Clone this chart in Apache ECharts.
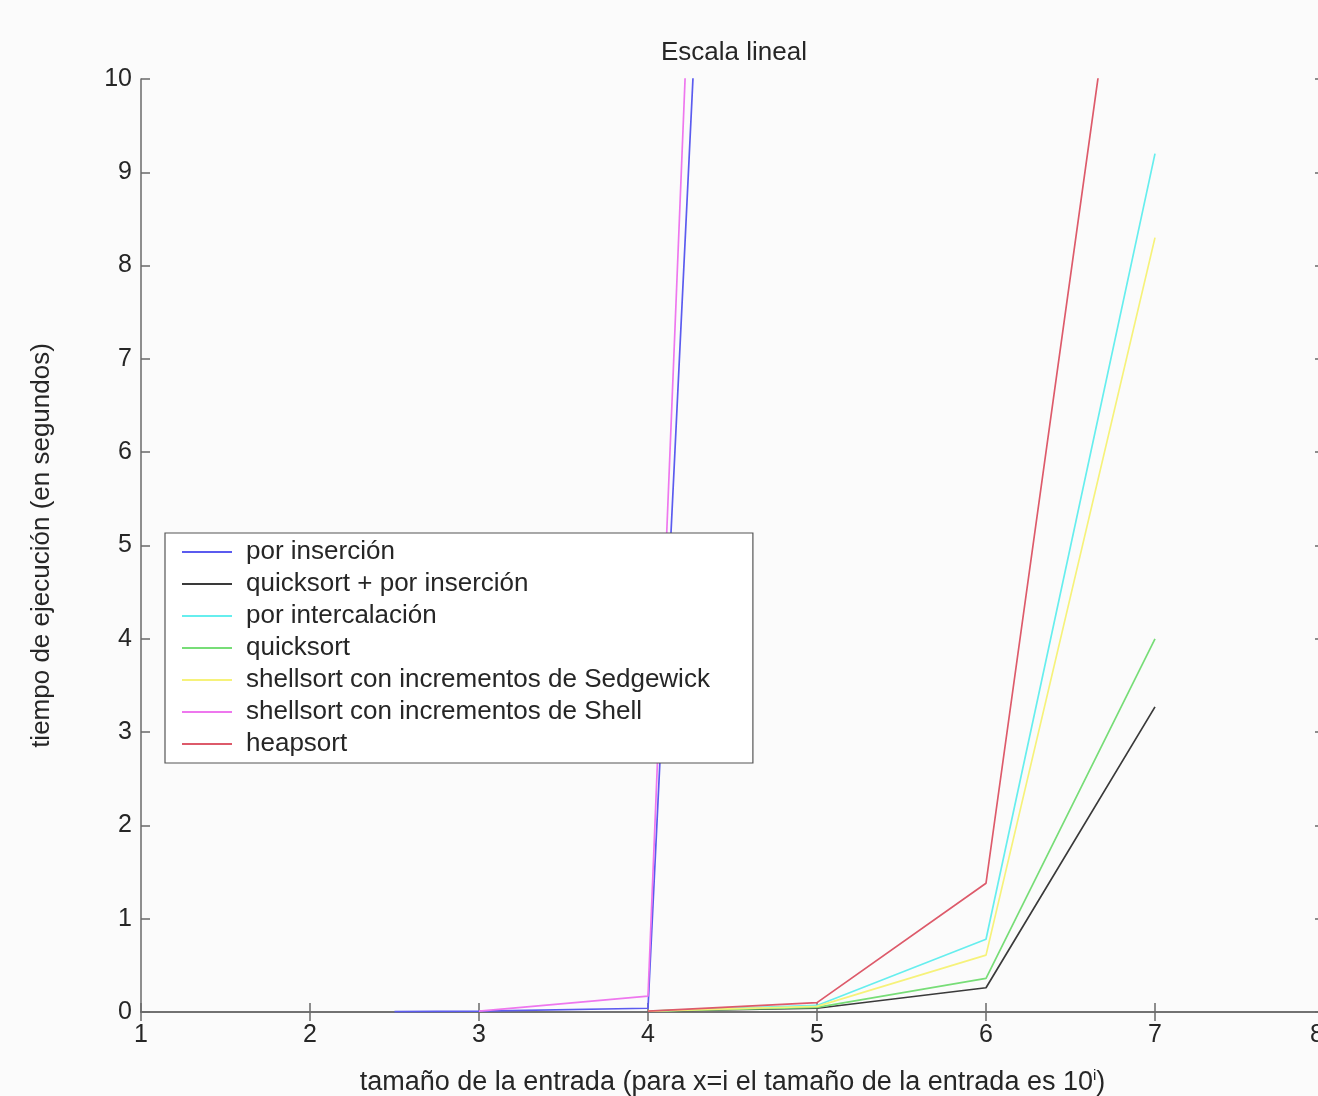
<!DOCTYPE html>
<html>
<head>
<meta charset="utf-8">
<script src="https://cdn.jsdelivr.net/npm/echarts@6/dist/echarts.min.js"></script>
<style>
html,body{margin:0;padding:0;background:#fbfbfb;overflow:hidden;width:1318px;height:1096px;}
#chart{width:1334px;height:1096px;}
</style>
</head>
<body>
<div id="chart"></div>
<script>
// ---- data (x = log10 of input size, y = seconds) ----
const seriesNames = [
  'por inserción',
  'quicksort + por inserción',
  'por intercalación',
  'quicksort',
  'shellsort con incrementos de Sedgewick',
  'shellsort con incrementos de Shell',
  'heapsort'
];
const seriesColors = ['#5b5bef', '#3a3a3a', '#66eeee', '#77dd77', '#f6f27a', '#ee77ee', '#dd5a6a'];

const xInsercion = [2.5, 3, 4, 5];
const yInsercion = [0.005, 0.01, 0.04, 37.5];

const xQuickIns = [4, 5, 6, 7];
const yQuickIns = [0.01, 0.04, 0.26, 3.27];

const xIntercal = [4, 5, 6, 7];
const yIntercal = [0.01, 0.07, 0.78, 9.2];

const xQuick = [4, 5, 6, 7];
const yQuick = [0.01, 0.05, 0.36, 4.0];

const xSedgewick = [4, 5, 6, 7];
const ySedgewick = [0.01, 0.06, 0.61, 8.3];

const xShell = [3, 4, 5];
const yShell = [0.01, 0.17, 45];

const xHeap = [4, 5, 6, 7];
const yHeap = [0.01, 0.1, 1.38, 14.4];

const xTicks = [1, 2, 3, 4, 5, 6, 7, 8];
const yTicks = [0, 1, 2, 3, 4, 5, 6, 7, 8, 9, 10];

const titleText = 'Escala lineal';
const xAxisName = 'tamaño de la entrada (para x=i el tamaño de la entrada es 10';
const yAxisName = 'tiempo de ejecución (en segundos)';

// ---- build ----
const allX = [xInsercion, xQuickIns, xIntercal, xQuick, xSedgewick, xShell, xHeap];
const allY = [yInsercion, yQuickIns, yIntercal, yQuick, ySedgewick, yShell, yHeap];
const FONT = 'Liberation Sans, Arial, sans-serif';
const AX = '#6a6a6a';
const TXT = '#262626';

const series = seriesNames.map((name, i) => ({
  name: name,
  type: 'line',
  data: allX[i].map((x, j) => [x, allY[i][j]]),
  showSymbol: false,
  symbol: 'none',
  clip: true,
  lineStyle: { color: seriesColors[i], width: 1.7 },
  itemStyle: { color: seriesColors[i] },
  animation: false
}));

const chart = echarts.init(document.getElementById('chart'), null, { renderer: 'canvas' });
chart.setOption({
  backgroundColor: '#fbfbfb',
  animation: false,
  title: {
    text: titleText,
    left: 729, top: 35, textAlign: 'center',
    textStyle: { fontFamily: FONT, fontSize: 26, fontWeight: 'normal', color: TXT }
  },
  grid: { left: 141, top: 79, right: 10, height: 933, containLabel: false, outerBoundsMode: 'none' },
  legend: {
    orient: 'vertical',
    left: 165, top: 533,
    padding: [6, 43, 6, 16],
    itemWidth: 50, itemHeight: 14, itemGap: 6,
    backgroundColor: '#ffffff',
    borderColor: '#555', borderWidth: 1.2, borderRadius: 0,
    itemStyle: { opacity: 0 },
    textStyle: { fontFamily: FONT, fontSize: 26, color: TXT, padding: [0, 0, 0, 9] },
    data: seriesNames
  },
  xAxis: [{
    type: 'value', min: 1, max: 8, interval: 1,
    name: xAxisName + '{s|i})',
    nameLocation: 'middle', nameGap: 56,
    nameTextStyle: { fontFamily: FONT, fontSize: 27, color: TXT,
      rich: { s: { fontFamily: FONT, fontSize: 15, verticalAlign: 'top', padding: [0, 0, 14, 0], color: TXT } } },
    axisLine: { show: true, lineStyle: { color: AX, width: 1.5 } },
    axisTick: { show: true, inside: true, length: 9, lineStyle: { color: AX, width: 1.5 } },
    axisLabel: { fontFamily: FONT, fontSize: 25, color: TXT, margin: 11, showMaxLabel: true, hideOverlap: false, alignMaxLabel: 'right' },
    splitLine: { show: false }
  }, {
    type: 'value', min: 1, max: 8, interval: 1, position: 'top',
    axisLine: { show: true, lineStyle: { color: AX, width: 1.5 } },
    axisTick: { show: true, inside: true, length: 9, lineStyle: { color: AX, width: 1.5 } },
    axisLabel: { show: false },
    splitLine: { show: false }
  }],
  yAxis: [{
    type: 'value', min: 0, max: 10, interval: 1,
    name: yAxisName,
    nameLocation: 'middle', nameGap: 86, nameRotate: 90,
    nameTextStyle: { fontFamily: FONT, fontSize: 26, color: TXT },
    axisLine: { show: true, lineStyle: { color: AX, width: 1.5 } },
    axisTick: { show: true, inside: true, length: 9, lineStyle: { color: AX, width: 1.5 } },
    axisLabel: { fontFamily: FONT, fontSize: 25, color: TXT, margin: 9 },
    splitLine: { show: false }
  }, {
    type: 'value', min: 0, max: 10, interval: 1, position: 'right',
    axisLine: { show: true, lineStyle: { color: AX, width: 1.5 } },
    axisTick: { show: true, inside: true, length: 9, lineStyle: { color: AX, width: 1.5 } },
    axisLabel: { show: false },
    splitLine: { show: false }
  }],
  series: series
});
</script>
</body>
</html>
